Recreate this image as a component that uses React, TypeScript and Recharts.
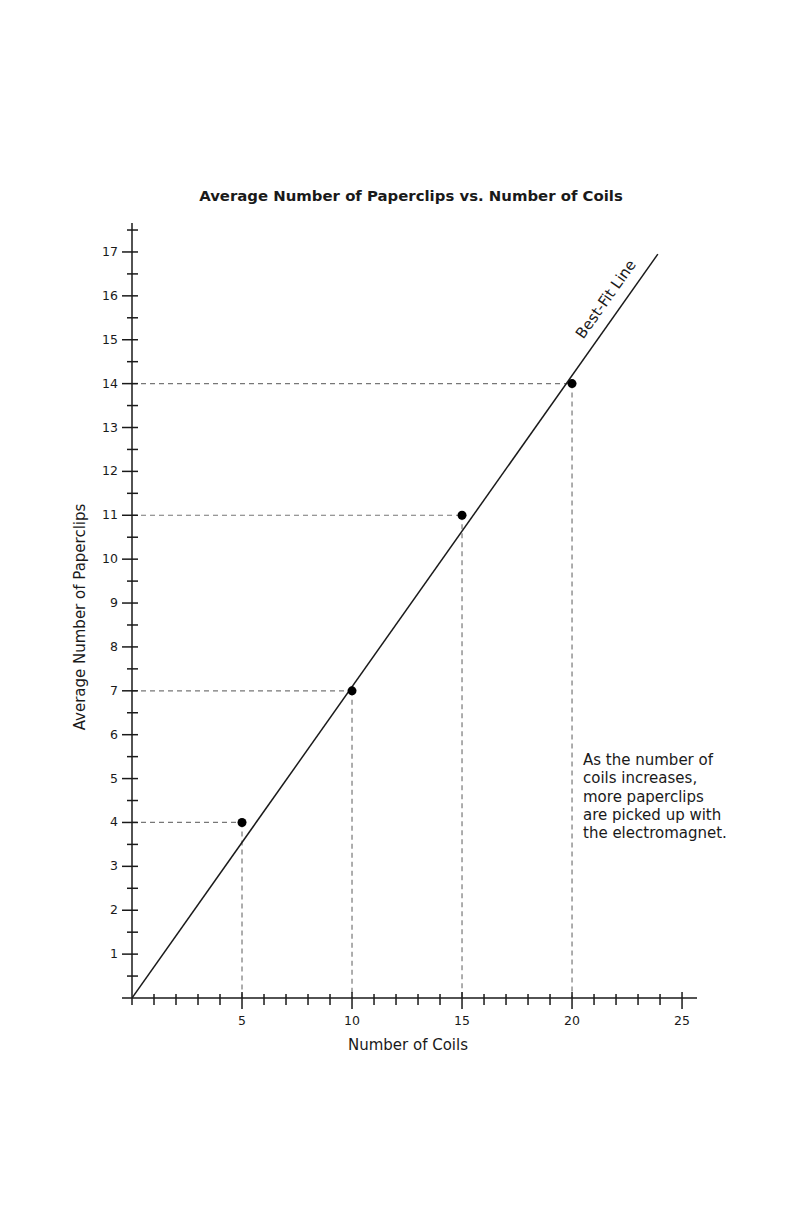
import React from "react";
import {
  ScatterChart,
  Scatter,
  XAxis,
  YAxis,
  ReferenceLine,
  Customized,
} from "recharts";

// measured points (coils, average paperclips)
const coils = [5, 10, 15, 20];
const paperclips = [4, 7, 11, 14];

// best-fit line end points
const fitX = [0, 23.9];
const fitY = [0, 16.95];

const xTicks = Array.from({ length: 26 }, (_, i) => i);
const yTicks = Array.from({ length: 36 }, (_, i) => i / 2);

const xMax = 25.68;
const yMax = 17.66;

const note = [
  "As the number of",
  "coils increases,",
  "more paperclips",
  "are picked up with",
  "the electromagnet.",
];

const points = coils.map((c, i) => ({ x: c, y: paperclips[i] }));
const fitLine = fitX.map((x, i) => ({ x, y: fitY[i] }));

const INK = "#1a1a1a";
const FONT = "'DejaVu Sans', Verdana, sans-serif";

function XTick({ x, y, payload }: any) {
  const v = payload.value;
  const major = v % 5 === 0 && v !== 0;
  return (
    <g>
      <line
        x1={x}
        x2={x}
        y1={v === 0 ? y : y - (major ? 6 : 4)}
        y2={y + (major ? 11 : 7)}
        stroke={INK}
        strokeWidth={1.5}
      />
      {major && (
        <text x={x} y={y + 27} textAnchor="middle" fontSize={12.5} fill={INK} fontFamily={FONT}>
          {v}
        </text>
      )}
    </g>
  );
}

function YTick({ x, y, payload }: any) {
  const v = payload.value;
  const major = Number.isInteger(v);
  return (
    <g>
      <line
        x1={x - (major ? 10 : 5)}
        x2={v === 0 ? x : x + 6}
        y1={y}
        y2={y}
        stroke={INK}
        strokeWidth={1.5}
      />
      {major && v !== 0 && (
        <text x={x - 14} y={y + 4} textAnchor="end" fontSize={12.5} fill={INK} fontFamily={FONT}>
          {v}
        </text>
      )}
    </g>
  );
}

function Texts() {
  return (
    <g fontFamily={FONT} fill={INK}>
      <text x={403} y={193} textAnchor="middle" fontSize={14.9} fontWeight="bold">
        Average Number of Paperclips vs. Number of Coils
      </text>
      <text x={400} y={1042} textAnchor="middle" fontSize={15}>
        Number of Coils
      </text>
      <text
        x={77}
        y={609}
        textAnchor="middle"
        fontSize={15}
        transform="rotate(-90 77 609)"
      >
        Average Number of Paperclips
      </text>
      <text
        x={602}
        y={294}
        textAnchor="middle"
        fontSize={15}
        transform="rotate(-54.7 602 294)"
      >
        Best-Fit Line
      </text>
      {note.map((t, i) => (
        <text key={i} x={575} y={757 + i * 18.3} fontSize={15}>
          {t}
        </text>
      ))}
    </g>
  );
}

export default function App() {
  return (
    <div style={{ width: 784, height: 1209, background: "#fff", fontFamily: FONT }}>
      <ScatterChart
        width={784}
        height={1209}
        margin={{ top: 215, right: 95, bottom: 189, left: 64 }}
      >
        <XAxis
          type="number"
          dataKey="x"
          domain={[0, xMax]}
          allowDataOverflow
          ticks={xTicks}
          interval={0}
          height={30}
          tickSize={0}
          tickMargin={0}
          tickLine={false}
          axisLine={{ stroke: INK, strokeWidth: 1.5 }}
          tick={<XTick />}
        />
        <YAxis
          type="number"
          dataKey="y"
          domain={[0, yMax]}
          allowDataOverflow
          ticks={yTicks}
          interval={0}
          width={60}
          tickSize={0}
          tickMargin={0}
          tickLine={false}
          axisLine={{ stroke: INK, strokeWidth: 1.5 }}
          tick={<YTick />}
        />
        {points.map((p) => (
          <ReferenceLine
            key={"h" + p.x}
            segment={[
              { x: 0, y: p.y },
              { x: p.x, y: p.y },
            ]}
            stroke="#777"
            strokeDasharray="5 4"
            strokeWidth={1.2}
          />
        ))}
        {points.map((p) => (
          <ReferenceLine
            key={"v" + p.x}
            segment={[
              { x: p.x, y: p.y },
              { x: p.x, y: 0 },
            ]}
            stroke="#777"
            strokeDasharray="5 4"
            strokeWidth={1.2}
          />
        ))}
        <Scatter
          data={fitLine}
          line={{ stroke: INK, strokeWidth: 1.5 }}
          shape={() => <g />}
          isAnimationActive={false}
        />
        <Scatter
          data={points}
          shape={(props: any) => (
            <circle cx={props.cx} cy={props.cy} r={4.5} fill="#000" />
          )}
          isAnimationActive={false}
        />
        <Customized component={Texts} />
      </ScatterChart>
    </div>
  );
}
